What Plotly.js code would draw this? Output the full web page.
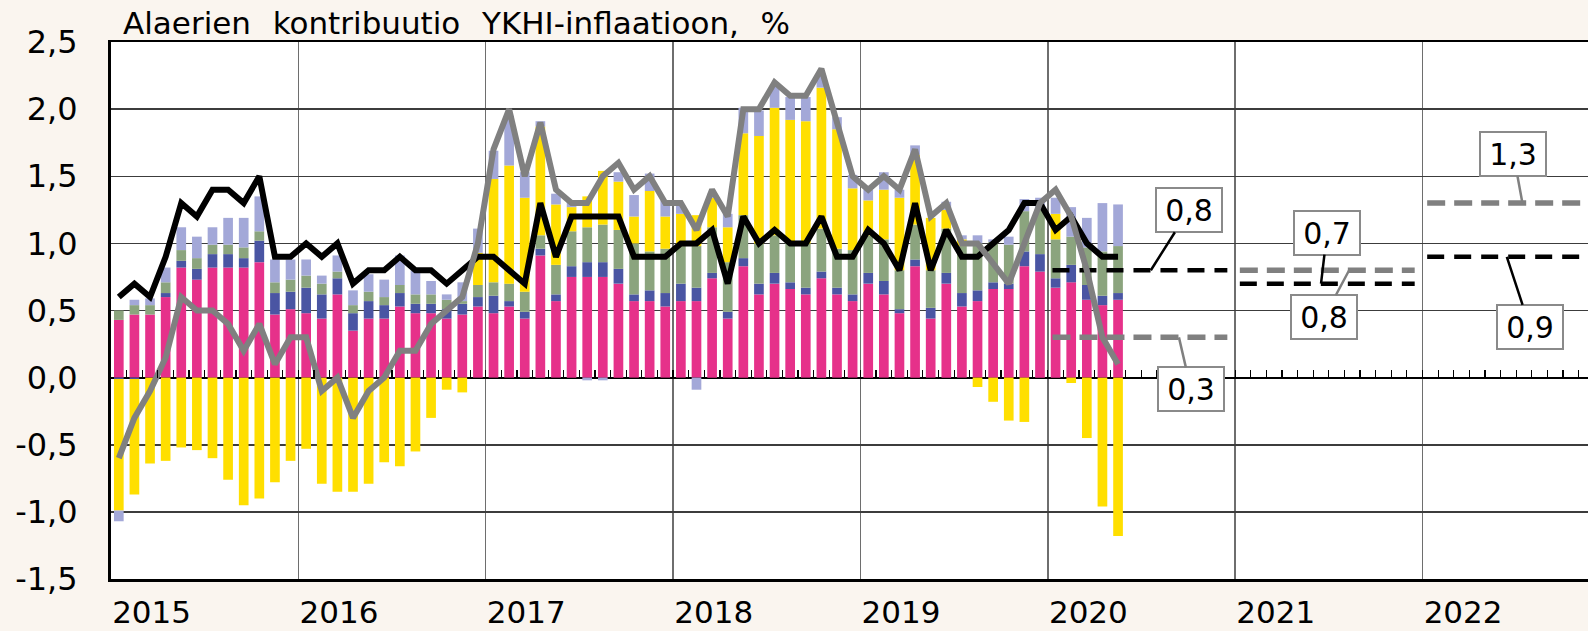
<!DOCTYPE html>
<html>
<head>
<meta charset="utf-8">
<script src="https://cdn.plot.ly/plotly-3.0.1.min.js"></script>
<style>
  html, body { margin: 0; padding: 0; background: #faf5ef; }
  #chart { width: 1588px; height: 631px; }
</style>
</head>
<body>
<div id="chart"></div>
<script>
// ---------- DATA ----------
const firstYear = 2015;
const yearLabels = ['2015', '2016', '2017', '2018', '2019', '2020', '2021', '2022'];

// Monthly contributions, Jan 2015 .. May 2020 (percentage points)
const pink = [
  0.43,0.47,0.47,0.60,0.82,0.73,0.82,0.82,0.82,0.86,0.47,0.51,
  0.48,0.44,0.62,0.35,0.44,0.44,0.53,0.48,0.48,0.44,0.47,0.53,
  0.48,0.53,0.44,0.91,0.57,0.75,0.75,0.75,0.70,0.57,0.57,0.53,
  0.57,0.57,0.74,0.44,0.83,0.62,0.70,0.66,0.62,0.74,0.62,0.57,
  0.70,0.62,0.48,0.83,0.44,0.70,0.53,0.57,0.66,0.66,0.83,0.79,
  0.67,0.71,0.58,0.54,0.58];
const darkBlue = [
  -0.01,-0.01,0.00,0.03,0.05,0.08,0.10,0.10,0.07,0.16,0.16,0.13,
  0.19,0.18,0.12,0.13,0.13,0.10,0.10,0.07,0.07,0.07,0.08,0.07,
  0.13,0.04,0.05,0.05,0.05,0.08,0.11,0.11,0.11,0.05,0.08,0.10,
  0.13,0.10,0.04,0.05,0.06,0.08,0.08,0.05,0.05,0.05,0.05,0.05,
  0.08,0.10,0.03,0.05,0.08,0.08,0.10,0.08,0.05,0.04,0.11,0.13,
  0.07,0.13,0.11,0.07,0.05];
const green = [
  0.07,0.07,0.07,0.08,0.08,0.08,0.07,0.07,0.08,0.07,0.08,0.09,
  0.09,0.08,0.05,0.06,0.07,0.06,0.06,0.07,0.07,0.07,0.02,0.09,
  0.10,0.13,0.15,0.10,0.22,0.26,0.26,0.28,0.29,0.38,0.29,0.33,
  0.28,0.31,0.34,0.37,0.32,0.30,0.28,0.30,0.33,0.32,0.29,0.33,
  0.28,0.31,0.29,0.26,0.28,0.33,0.35,0.35,0.30,0.29,0.30,0.33,
  0.29,0.21,0.28,0.33,0.35];
const yellow = [
  -0.98,-0.86,-0.64,-0.62,-0.52,-0.54,-0.60,-0.76,-0.95,-0.90,-0.78,-0.62,
  -0.53,-0.79,-0.85,-0.85,-0.79,-0.63,-0.66,-0.55,-0.30,-0.09,-0.11,0.24,
  0.77,0.88,0.70,0.81,0.45,0.18,0.23,0.40,0.36,0.20,0.45,0.24,
  0.24,0.23,0.22,0.26,0.61,0.80,0.95,0.91,0.91,1.05,0.89,0.46,
  0.26,0.37,0.54,0.52,0.39,0.14,0.05,-0.07,-0.18,-0.32,-0.33,0.00,
  0.19,-0.04,-0.45,-0.96,-1.18];
const lightBlue = [
  -0.08,0.04,0.05,0.11,0.17,0.16,0.13,0.20,0.22,0.26,0.17,0.15,
  0.12,0.06,0.12,0.11,0.13,0.13,0.22,0.18,0.10,0.04,0.14,0.18,
  0.21,0.37,0.19,0.04,0.08,0.05,-0.02,-0.02,0.07,0.16,0.13,0.12,
  0.06,-0.09,0.03,0.10,0.19,0.19,0.16,0.17,0.18,0.09,0.09,0.10,
  0.08,0.13,0.06,0.07,0.00,0.06,0.03,0.06,0.02,0.06,0.09,0.09,
  0.12,0.22,0.22,0.36,0.31];

// Headline (grey) and core (black) inflation, %
const headline = [
  -0.6,-0.3,-0.1,0.15,0.6,0.5,0.5,0.4,0.2,0.4,0.1,0.3,
  0.3,-0.1,0.0,-0.3,-0.1,0.0,0.2,0.2,0.4,0.5,0.6,1.0,
  1.7,2.0,1.5,1.9,1.4,1.3,1.3,1.5,1.6,1.4,1.5,1.3,
  1.3,1.1,1.4,1.2,2.0,2.0,2.2,2.1,2.1,2.3,1.9,1.5,
  1.4,1.5,1.4,1.7,1.2,1.3,1.0,1.0,0.85,0.7,1.0,1.3,
  1.4,1.2,0.8,0.3,0.1];
const core = [
  0.6,0.7,0.6,0.9,1.3,1.2,1.4,1.4,1.3,1.5,0.9,0.9,
  1.0,0.9,1.0,0.7,0.8,0.8,0.9,0.8,0.8,0.7,0.8,0.9,
  0.9,0.8,0.7,1.3,0.9,1.2,1.2,1.2,1.2,0.9,0.9,0.9,
  1.0,1.0,1.1,0.7,1.2,1.0,1.1,1.0,1.0,1.2,0.9,0.9,
  1.1,1.0,0.8,1.3,0.8,1.1,0.9,0.9,1.0,1.1,1.3,1.3,
  1.1,1.2,1.0,0.9,0.9];

// Annual forecasts
const forecastYears = [2020, 2021, 2022];
const coreForecast = [0.8, 0.7, 0.9];
const headlineForecast = [0.3, 0.8, 1.3];

const yTickVals = [-1.5, -1.0, -0.5, 0.0, 0.5, 1.0, 1.5, 2.0, 2.5];
const yTickText = ['-1,5', '-1,0', '-0,5', '0,0', '0,5', '1,0', '1,5', '2,0', '2,5'];

const titleWords = ['Alaerien', 'kontribuutio', 'YKHI-inflaatioon,', '%'];

// ---------- STYLE / LAYOUT ----------
const FONT = 'DejaVu Sans, Arial, sans-serif';
const xRange = [0, 94.6];
const yRange = [-1.5, 2.5];
const labelOffset = 2.6;             // year label position inside the year (months)
const segStart = 0.3, segEnd = 11.5; // forecast segment extent within year (months)

const xMonths = pink.map((_, i) => i + 0.5);

function bar(name, vals, color) {
  return { type: 'bar', name, x: xMonths, y: vals, width: 0.62,
           marker: { color, line: { width: 0 } }, hoverinfo: 'skip', xaxis: 'x', yaxis: 'y' };
}

const traces = [
  bar('pink', pink, '#e6318a'),
  bar('darkBlue', darkBlue, '#4a55a3'),
  bar('green', green, '#8ba47e'),
  bar('yellow', yellow, '#ffdf00'),
  bar('lightBlue', lightBlue, '#a3a8d8'),
];

forecastYears.forEach((yr, i) => {
  const base = 12 * (yr - firstYear);
  traces.push({ type: 'scatter', mode: 'lines', x: [base + segStart, base + segEnd],
    y: [headlineForecast[i], headlineForecast[i]], xaxis: 'x2', yaxis: 'y',
    line: { color: '#808080', width: 5.5, dash: '18px,9px' }, hoverinfo: 'skip' });
  traces.push({ type: 'scatter', mode: 'lines', x: [base + segStart, base + segEnd],
    y: [coreForecast[i], coreForecast[i]], xaxis: 'x2', yaxis: 'y',
    line: { color: '#000000', width: 4.5, dash: '17px,10px' }, hoverinfo: 'skip' });
});

traces.push({ type: 'scatter', mode: 'lines', x: xMonths, y: core, xaxis: 'x2', yaxis: 'y',
  line: { color: '#000000', width: 6 }, hoverinfo: 'skip' });
traces.push({ type: 'scatter', mode: 'lines', x: xMonths, y: headline, xaxis: 'x2', yaxis: 'y',
  line: { color: '#808080', width: 6 }, hoverinfo: 'skip' });

// Annotation boxes for forecasts: [month offset in year, ax, ay]
const coreLabelPos = [[6.6, 38, -60], [5.5, 6, -51], [5.4, 23, 70]];
const headLabelPos = [[8.4, 12, 52], [7.3, -25, 47], [6.4, -9, -49]];
const fmt = v => v.toFixed(1).replace('.', ',');
const annotations = [];
forecastYears.forEach((yr, i) => {
  const base = 12 * (yr - firstYear);
  [[coreForecast[i], coreLabelPos[i], '#000000'], [headlineForecast[i], headLabelPos[i], '#808080']]
    .forEach(([v, p, col]) => {
      annotations.push({ x: base + p[0], y: v, xref: 'x2', yref: 'y', text: fmt(v),
        showarrow: true, arrowhead: 0, arrowwidth: 2.5, arrowcolor: col, ax: p[1], ay: p[2],
        bgcolor: '#ffffff', bordercolor: '#8a8a8a', borderwidth: 2, borderpad: 2,
        width: 60, height: 38, font: { family: FONT, size: 30, color: '#000000' } });
    });
});

const layout = {
  width: 1588, height: 631,
  margin: { l: 111, r: 0, t: 42, b: 52, pad: 0 },
  paper_bgcolor: '#faf5ef', plot_bgcolor: '#ffffff',
  showlegend: false, barmode: 'relative',
  title: { text: titleWords.join('\u2002\u2009'), xref: 'container', yref: 'container',
           x: 123 / 1588, xanchor: 'left', y: 1 - 23 / 631, yanchor: 'middle',
           font: { family: FONT, size: 31, color: '#000000' } },
  xaxis: {
    range: xRange, tickmode: 'array',
    tickvals: yearLabels.map((_, i) => 12 * i + labelOffset), ticktext: yearLabels,
    ticks: '', showgrid: false, zeroline: false,
    showline: true, linecolor: '#000000', linewidth: 2.5, mirror: true,
    tickfont: { family: FONT, size: 31, color: '#000000' }, ticklabelstandoff: 4,
    minor: { tickmode: 'linear', tick0: 0, dtick: 12, showgrid: true, gridcolor: '#6e6e6e', gridwidth: 1.5, ticks: '' },
  },
  xaxis2: {
    range: xRange, overlaying: 'x', anchor: 'free',
    position: (0 - yRange[0]) / (yRange[1] - yRange[0]), side: 'bottom',
    tickmode: 'linear', tick0: 0, dtick: 1, ticks: 'inside', ticklen: 8, tickwidth: 1.2, tickcolor: '#000000',
    showticklabels: false, showgrid: false, zeroline: false, showline: false,
  },
  yaxis: {
    range: yRange, tickmode: 'array', tickvals: yTickVals, ticktext: yTickText,
    ticks: '', showgrid: true, gridcolor: '#3c3c3c', gridwidth: 1.5,
    zeroline: true, zerolinecolor: '#000000', zerolinewidth: 2,
    showline: true, linecolor: '#000000', linewidth: 3,
    tickfont: { family: FONT, size: 32, color: '#000000' }, ticklabelstandoff: 24,
  },
  annotations,
};

Plotly.newPlot('chart', traces, layout, { displayModeBar: false, staticPlot: true });
</script>
</body>
</html>
